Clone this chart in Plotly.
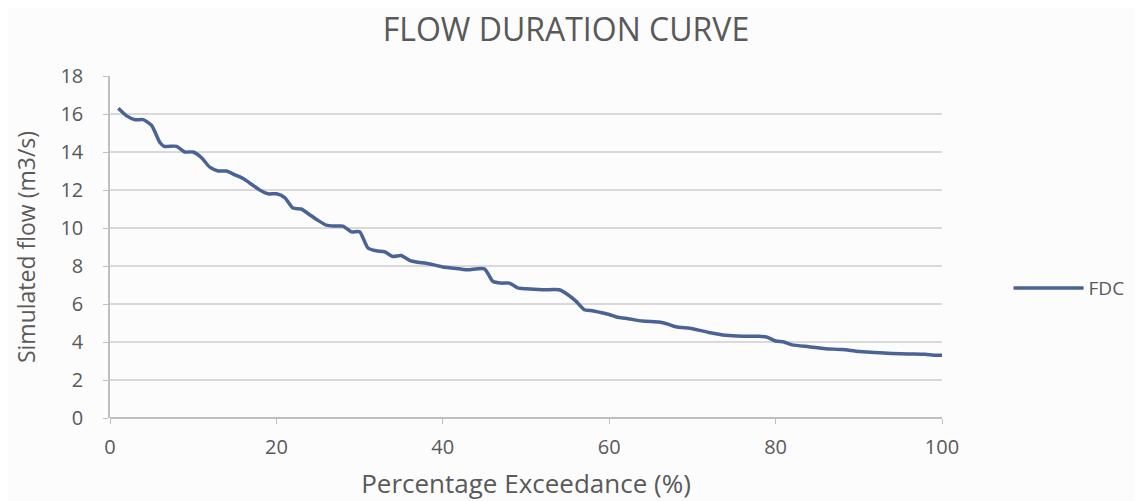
import plotly.graph_objects as go

# Flow duration curve
exceedance = [1, 2, 3, 4, 5, 6, 6.5, 8, 9, 10, 11, 12, 13, 14, 15, 16, 17, 18, 19, 20,
              21, 22, 23, 24, 25, 26, 27, 28, 29, 30, 31, 32, 33, 34, 35, 36, 37, 38,
              40, 42, 43, 45, 46, 47, 48, 49, 50, 52, 54, 55, 56, 57, 58, 59, 60, 61,
              62, 64, 66, 67, 68, 70, 72, 74, 76, 78, 79, 80, 81, 82, 84, 86, 88, 90,
              92, 94, 96, 98, 99, 100]
flow = [16.3, 15.9, 15.7, 15.7, 15.4, 14.5, 14.3, 14.3, 14.0, 14.0, 13.7, 13.2, 13.0, 13.0,
        12.8, 12.6, 12.3, 12.0, 11.8, 11.8, 11.6, 11.05, 11.0, 10.7, 10.4, 10.15, 10.1, 10.1,
        9.8, 9.8, 8.95, 8.8, 8.75, 8.5, 8.55, 8.3, 8.2, 8.15, 7.95, 7.85, 7.8, 7.85, 7.2, 7.1,
        7.1, 6.85, 6.8, 6.75, 6.75, 6.5, 6.15, 5.7, 5.65, 5.55, 5.45, 5.3, 5.25, 5.1, 5.05,
        4.95, 4.8, 4.7, 4.5, 4.35, 4.3, 4.3, 4.25, 4.05, 4.0, 3.85, 3.75, 3.65, 3.6, 3.5,
        3.45, 3.4, 3.37, 3.35, 3.3, 3.3]

TXT = "#595959"
GRID = "#d9d9d9"

fig = go.Figure(go.Scatter(
    x=exceedance, y=flow, name="FDC", mode="lines",
    line=dict(color="#4a6396", width=3.5, shape="spline", smoothing=0.6),
))

fig.update_layout(
    width=1135, height=493,
    title=dict(text="FLOW DURATION CURVE", x=0.4916, xanchor="center",
               y=0.955, yanchor="middle", font=dict(size=32, color=TXT)),
    font=dict(family="Open Sans", color=TXT, size=20),
    paper_bgcolor="#fdfcfd", plot_bgcolor="#fdfcfd",
    margin=dict(l=102, r=201, t=68, b=83),
    showlegend=True,
    legend=dict(x=1.08, y=0.38, xanchor="left", yanchor="middle",
                font=dict(size=19, color=TXT), itemwidth=70,
                bgcolor="rgba(0,0,0,0)"),
)
fig.update_xaxes(
    range=[0, 100], dtick=20, showgrid=False, zeroline=False,
    showline=False, ticks="outside", ticklen=5, tickcolor="#bfbfbf",
    ticklabelstandoff=6, automargin=False,
    title=dict(text="Percentage Exceedance (%)", font=dict(size=26, color=TXT), standoff=19),
)
fig.update_yaxes(
    range=[0, 18], dtick=2, gridcolor=GRID, gridwidth=1.5,
    zeroline=True, zerolinecolor="#bfbfbf", zerolinewidth=1.5,
    showline=True, linecolor="#bfbfbf", linewidth=1.5, ticks="outside", ticklen=5,
    tickcolor="#bfbfbf", ticklabelstandoff=16, automargin=False,
    title=dict(text="Simulated flow (m3/s)", font=dict(size=23, color=TXT), standoff=18),
)

fig.write_html("out.html")
